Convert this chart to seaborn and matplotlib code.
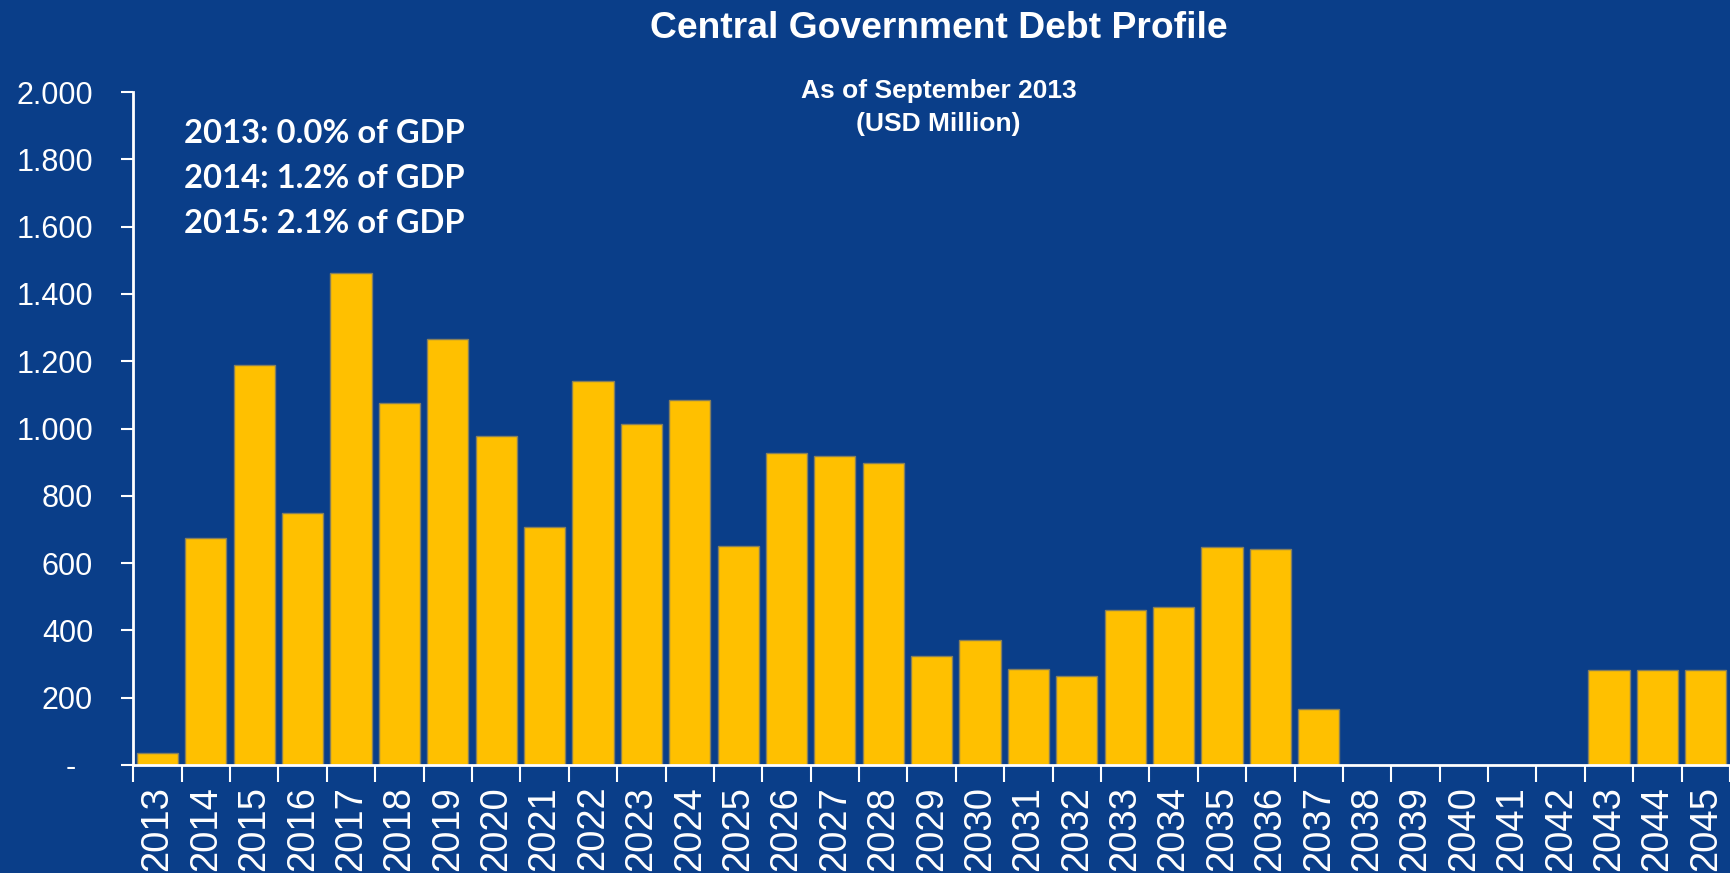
import matplotlib
matplotlib.use("Agg")
import matplotlib.pyplot as plt
import seaborn as sns
import pandas as pd
import numpy as np
from matplotlib.ticker import FuncFormatter

# Maturity profile of central government debt, USD million
years = ["2013", "2014", "2015", "2016", "2017", "2018", "2019", "2020", "2021",
         "2022", "2023", "2024", "2025", "2026", "2027", "2028", "2029", "2030",
         "2031", "2032", "2033", "2034", "2035", "2036", "2037", "2038", "2039",
         "2040", "2041", "2042", "2043", "2044", "2045"]
debt = [37, 675, 1190, 748, 1462, 1077, 1267, 979, 706,
        1142, 1014, 1084, 651, 928, 919, 896, 323, 371,
        284, 265, 460, 470, 647, 641, 166, 0, 0,
        0, 0, 0, 283, 283, 283]

gdp_notes = ["2013: 0.0% of GDP", "2014: 1.2% of GDP", "2015: 2.1% of GDP"]
y_ticks = [0, 200, 400, 600, 800, 1000, 1200, 1400, 1600, 1800, 2000]

BG = "#0A3E89"
BAR = "#FFC000"
W, H = 1731, 873

sns.set_theme(style="white")
plt.rcParams["font.family"] = ["Liberation Sans", "DejaVu Sans"]

df = pd.DataFrame({"year": years, "debt": debt})

fig = plt.figure(figsize=(W / 100, H / 100), dpi=100, facecolor=BG)
ax = fig.add_axes([133.3 / W, 1 - 765 / H, (1730 - 133.3) / W, (765 - 92) / H])
ax.set_facecolor(BG)

sns.barplot(data=df, x="year", y="debt", order=years, color=BAR, width=0.85,
            edgecolor="#857F5E", linewidth=1.0, saturation=1, ax=ax, zorder=2)

ax.set_xlim(-0.5, len(years) - 0.5)
ax.set_ylim(0, 2000)
ax.set_xlabel("")
ax.set_ylabel("")

for side in ("top", "right"):
    ax.spines[side].set_visible(False)
for side in ("left", "bottom"):
    ax.spines[side].set_color("white")
    ax.spines[side].set_linewidth(2)
    ax.spines[side].set_zorder(5)

ax.set_yticks(y_ticks)
ax.yaxis.set_major_formatter(FuncFormatter(
    lambda v, _: "-  " if v == 0 else f"{v:,.0f}".replace(",", ".")))
ax.tick_params(axis="y", colors="white", length=9, width=1.5, pad=20,
               labelsize=22, direction="out", left=True)

ax.set_xticks(np.arange(len(years)))
ax.set_xticklabels(years, rotation=90, va="top", ha="center")
ax.set_xticks(np.arange(len(years) + 1) - 0.5, minor=True)
ax.tick_params(axis="x", which="major", colors="white", length=0, pad=15,
               labelsize=27.5, bottom=True)
ax.tick_params(axis="x", which="minor", colors="white", length=12, width=1.5,
               bottom=True, direction="out")
ax.grid(False)

fig.text(938.5 / W, 1 - 37.5 / H, "Central Government Debt Profile",
         ha="center", va="baseline", color="white", fontsize=26.8,
         fontweight="bold")
fig.text(938.5 / W, 1 - 98 / H, "As of September 2013",
         ha="center", va="baseline", color="white", fontsize=19,
         fontweight="bold")
fig.text(938.5 / W, 1 - 131 / H, "(USD Million)",
         ha="center", va="baseline", color="white", fontsize=19,
         fontweight="bold")

for i, note in enumerate(gdp_notes):
    fig.text(183.7 / W, 1 - (143.3 + 45 * i) / H, note, ha="left",
             va="baseline", color="white", fontsize=23.6, fontweight="bold",
             family=["Lato", "DejaVu Sans"])

fig.savefig("out.png", dpi=100, facecolor=BG)
